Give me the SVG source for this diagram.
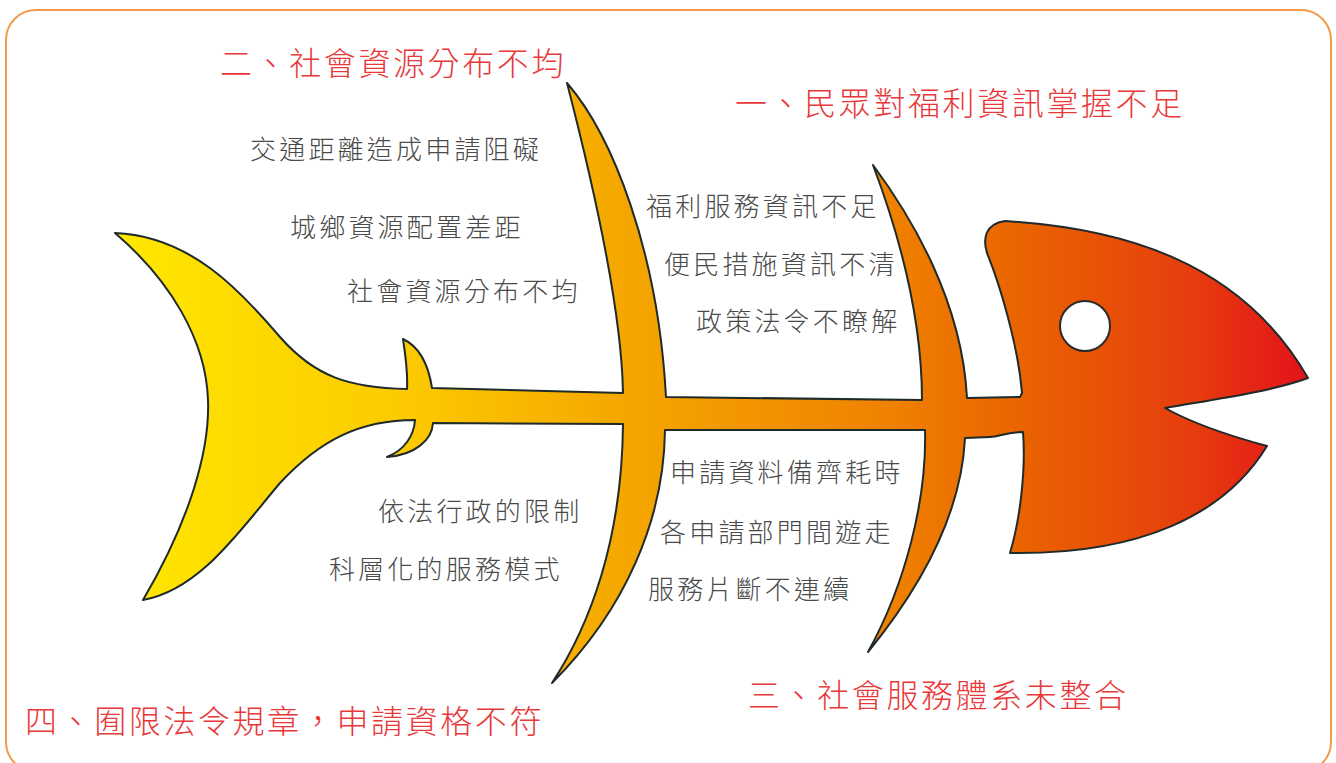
<svg xmlns="http://www.w3.org/2000/svg" width="1336" height="763" viewBox="0 0 1336 763">
  <defs>
    <linearGradient id="fishFill" gradientUnits="userSpaceOnUse" x1="115" y1="0" x2="1308" y2="0">
      <stop offset="0" stop-color="#ffe800"/>
      <stop offset="0.25" stop-color="#fcc900"/>
      <stop offset="0.42" stop-color="#f5a800"/>
      <stop offset="0.65" stop-color="#ef8100"/>
      <stop offset="0.75" stop-color="#ea6600"/>
      <stop offset="0.9" stop-color="#e63e0e"/>
      <stop offset="1" stop-color="#e3121a"/>
    </linearGradient>
    <style>
      .frame { fill: #ffffff; stroke: #f39a4a; stroke-width: 2; }
      .fish { fill: url(#fishFill); stroke: #1f2a2a; stroke-width: 2; stroke-linejoin: round; }
      .eye { fill: #ffffff; stroke: #2a2a2a; stroke-width: 2; }
      .cat { font-family: "Noto Sans CJK TC", "Noto Sans CJK SC", sans-serif; font-size: 32px; font-weight: 300; letter-spacing: 2.6px; fill: #e8383a; }
      .cause { font-family: "Noto Sans CJK TC", "Noto Sans CJK SC", sans-serif; font-size: 26px; font-weight: 300; letter-spacing: 3.2px; fill: #4a4a4a; }
    </style>
  </defs>

  <!-- outer frame -->
  <rect class="frame" x="6" y="10" width="1325" height="762" rx="30" ry="30"/>

  <!-- fish skeleton: tail, spine, two ribs and head as one outline -->
  <g id="fish">
    <path class="fish" d="M115,233
      C190,236 240,290 280,337
      C315,377 350,388 407,389
      C408,372 405,352 403,339
      C418,346 428,362 432,388
      L623,393
      C622,330 605,230 567,83
      C612,135 658,250 666,397
      L922,400
      C922,330 905,250 873,165
      C910,215 962,300 967,398
      L1020,397 L1022,393
      C1018,345 1000,285 987,253
      C983,240 984,224 1005,221
      C1120,228 1240,260 1308,378
      C1270,392 1210,400 1165,408
      C1190,422 1230,436 1267,446
      C1225,515 1140,555 1010,553
      C1020,520 1026,470 1023,432
      C1005,432 1000,437 990,437
      L965,438
      C962,500 935,570 868,652
      C905,585 927,500 925,430
      L665,430
      C664,520 625,610 552,683
      C590,625 622,540 623,424
      L433,423
      C432,440 415,455 387,457
      C405,450 414,435 415,420
      C360,420 320,440 280,483
      C240,530 200,590 143,600
      C190,520 210,450 208,400
      C206,340 170,280 115,233 Z"/>
    <circle class="eye" cx="1085" cy="326" r="25"/>
  </g>

  <!-- category headings -->
  <g id="cat-info"><text class="cat" x="735" y="115">一、民眾對福利資訊掌握不足</text></g>
  <g id="cat-resource"><text class="cat" x="220" y="75">二、社會資源分布不均</text></g>
  <g id="cat-service"><text class="cat" x="748" y="707">三、社會服務體系未整合</text></g>
  <g id="cat-law"><text class="cat" x="25" y="733">四、囿限法令規章，申請資格不符</text></g>

  <!-- causes: social resources -->
  <g id="cause-traffic"><text class="cause" x="250" y="159">交通距離造成申請阻礙</text></g>
  <g id="cause-urban-rural"><text class="cause" x="290" y="237">城鄉資源配置差距</text></g>
  <g id="cause-uneven"><text class="cause" x="347" y="301">社會資源分布不均</text></g>

  <!-- causes: information -->
  <g id="cause-welfare-info"><text class="cause" x="646" y="216">福利服務資訊不足</text></g>
  <g id="cause-convenience"><text class="cause" x="664" y="274">便民措施資訊不清</text></g>
  <g id="cause-policy"><text class="cause" x="696" y="331">政策法令不瞭解</text></g>

  <!-- causes: service system -->
  <g id="cause-documents"><text class="cause" x="670" y="482">申請資料備齊耗時</text></g>
  <g id="cause-departments"><text class="cause" x="660" y="542">各申請部門間遊走</text></g>
  <g id="cause-fragmented"><text class="cause" x="648" y="599">服務片斷不連續</text></g>

  <!-- causes: regulations -->
  <g id="cause-legal"><text class="cause" x="378" y="521">依法行政的限制</text></g>
  <g id="cause-bureaucracy"><text class="cause" x="329" y="579">科層化的服務模式</text></g>
</svg>
